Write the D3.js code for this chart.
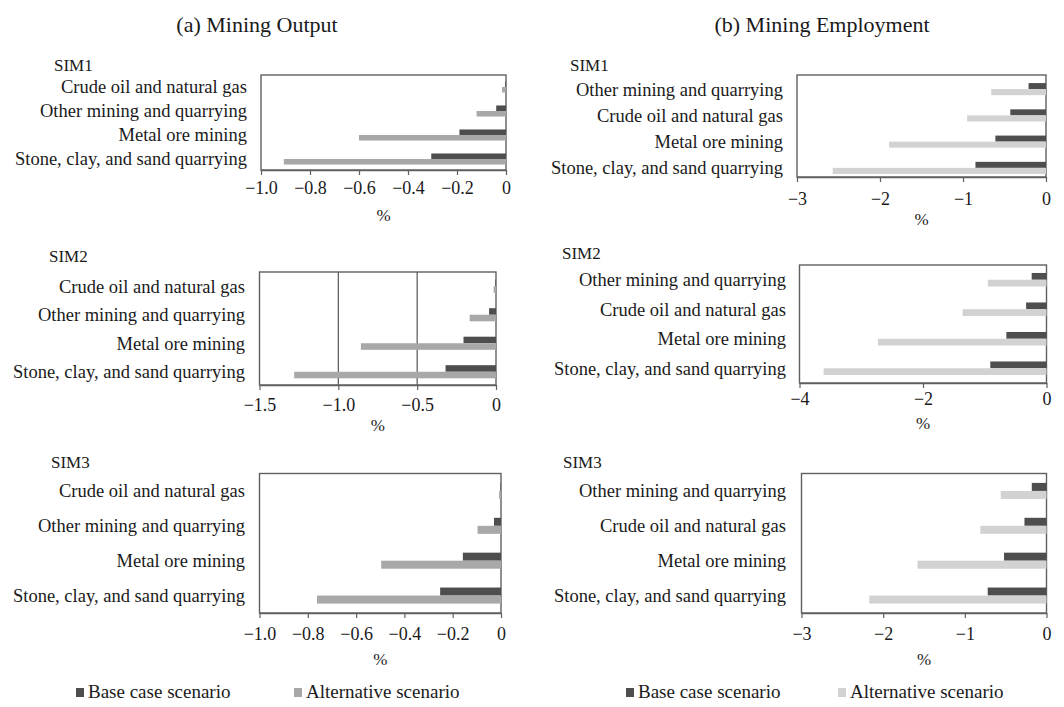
<!DOCTYPE html>
<html>
<head>
<meta charset="utf-8">
<script src="https://cdn.jsdelivr.net/npm/d3@7/dist/d3.min.js"></script>
<style>
  html, body { margin: 0; padding: 0; background: #fff; }
  svg { display: block; }
  text { font-family: "Liberation Serif", "Times New Roman", serif; fill: #1a1a1a; }
</style>
</head>
<body>
<svg id="chart" width="1064" height="707"></svg>
<script>
// ---------------- DATA ----------------
const outputCategories = ["Crude oil and natural gas", "Other mining and quarrying", "Metal ore mining", "Stone, clay, and sand quarrying"];
const employmentCategories = ["Other mining and quarrying", "Crude oil and natural gas", "Metal ore mining", "Stone, clay, and sand quarrying"];

const outputSIM1Base = [-0.003, -0.04, -0.19, -0.305];
const outputSIM1Alt  = [-0.016, -0.12, -0.60, -0.907];
const outputSIM2Base = [-0.004, -0.044, -0.206, -0.32];
const outputSIM2Alt  = [-0.015, -0.167, -0.857, -1.28];
const outputSIM3Base = [-0.002, -0.029, -0.158, -0.252];
const outputSIM3Alt  = [-0.008, -0.097, -0.496, -0.762];

const employSIM1Base = [-0.21, -0.43, -0.61, -0.85];
const employSIM1Alt  = [-0.66, -0.95, -1.89, -2.57];
const employSIM2Base = [-0.24, -0.33, -0.65, -0.91];
const employSIM2Alt  = [-0.95, -1.36, -2.73, -3.61];
const employSIM3Base = [-0.18, -0.27, -0.52, -0.72];
const employSIM3Alt  = [-0.56, -0.81, -1.58, -2.17];

const outputTicks1 = [-1.0, -0.8, -0.6, -0.4, -0.2, 0];
const outputTicks2 = [-1.5, -1.0, -0.5, 0];
const outputTicks3 = [-1.0, -0.8, -0.6, -0.4, -0.2, 0];
const employTicks1 = [-3, -2, -1, 0];
const employTicks2 = [-4, -2, 0];
const employTicks3 = [-3, -2, -1, 0];

const panelTitles = ["(a) Mining Output", "(b) Mining Employment"];
const simLabels = ["SIM1", "SIM2", "SIM3"];
const seriesNames = ["Base case scenario", "Alternative scenario"];
const axisTitle = "%";

// ---------------- STYLE / LAYOUT ----------------
const colBase = "#4e4e4e";
const colAltA = "#a8a8a8";
const colAltB = "#d2d2d2";
const frameCol = "#606060";

const panels = [
  { cats: outputCategories, base: outputSIM1Base, alt: outputSIM1Alt, ticks: outputTicks1, dec: 1, domain: [-1.0, 0],
    x0: 261, x1: 506, y0: 75, y1: 170, by0: 75, by1: 171, lblX: 247, sim: simLabels[0], simX: 54, simY: 71, pad: 6.5, pctY: 221, altCol: colAltA, grid: [] },
  { cats: employmentCategories, base: employSIM1Base, alt: employSIM1Alt, ticks: employTicks1, dec: 0, domain: [-3, 0],
    x0: 797, x1: 1046, y0: 75, y1: 177, by0: 76, by1: 181, lblX: 783, sim: simLabels[0], simX: 570, simY: 71, pad: 10, pctY: 225, altCol: colAltB, grid: [] },
  { cats: outputCategories, base: outputSIM2Base, alt: outputSIM2Alt, ticks: outputTicks2, dec: 1, domain: [-1.5, 0],
    x0: 259.5, x1: 496, y0: 272, y1: 385, by0: 272, by1: 386, lblX: 245, sim: simLabels[1], simX: 49, simY: 262, pad: 8.5, pctY: 431, altCol: colAltA, grid: [-1.0, -0.5] },
  { cats: employmentCategories, base: employSIM2Base, alt: employSIM2Alt, ticks: employTicks2, dec: 0, domain: [-4, 0],
    x0: 799.5, x1: 1046.5, y0: 265, y1: 383, by0: 265, by1: 383, lblX: 786, sim: simLabels[1], simX: 562, simY: 259, pad: 4, pctY: 429, altCol: colAltB, grid: [] },
  { cats: outputCategories, base: outputSIM3Base, alt: outputSIM3Alt, ticks: outputTicks3, dec: 1, domain: [-1.0, 0],
    x0: 259.5, x1: 501, y0: 473.5, y1: 613, by0: 473.5, by1: 613, lblX: 245, sim: simLabels[2], simX: 51, simY: 467.5, pad: 9, pctY: 665, altCol: colAltA, grid: [] },
  { cats: employmentCategories, base: employSIM3Base, alt: employSIM3Alt, ticks: employTicks3, dec: 0, domain: [-3, 0],
    x0: 801.5, x1: 1046.5, y0: 473.5, y1: 613, by0: 473.5, by1: 613, lblX: 786, sim: simLabels[2], simX: 563, simY: 467.5, pad: 9, pctY: 665, altCol: colAltB, grid: [] }
];

const svg = d3.select("#chart");

// Titles
svg.append("text").attr("x", 257).attr("y", 32).attr("text-anchor", "middle")
  .style("font-size", "22px").text(panelTitles[0]);
svg.append("text").attr("x", 822).attr("y", 32).attr("text-anchor", "middle")
  .style("font-size", "22px").text(panelTitles[1]);

function fmt(dec) {
  return v => {
    if (v === 0) return "0";
    const s = Math.abs(v).toFixed(dec);
    return (v < 0 ? "\u2212" : "") + s;
  };
}

panels.forEach(p => {
  const g = svg.append("g");
  const x = d3.scaleLinear().domain(p.domain).range([p.x0, p.x1]);
  const y = d3.scaleBand().domain(p.cats).range([p.by0, p.by1]).paddingInner(0.54).paddingOuter(0.27);
  const bh = y.bandwidth() / 2;

  // SIM label
  g.append("text").attr("x", p.simX).attr("y", p.simY).style("font-size", "17px").text(p.sim);

  // frame
  g.append("rect").attr("x", p.x0).attr("y", p.y0).attr("width", p.x1 - p.x0).attr("height", p.y1 - p.y0)
    .attr("fill", "none").attr("stroke", frameCol).attr("stroke-width", 1.4);

  // grid lines
  g.selectAll("line.grid").data(p.grid).join("line").attr("class", "grid")
    .attr("x1", d => x(d)).attr("x2", d => x(d)).attr("y1", p.y0).attr("y2", p.y1)
    .attr("stroke", "#555").attr("stroke-width", 1.2);

  // bars
  g.selectAll("rect.base").data(p.cats).join("rect").attr("class", "base")
    .attr("x", (d, i) => x(p.base[i])).attr("width", (d, i) => x(0) - x(p.base[i]))
    .attr("y", d => y(d)).attr("height", bh).attr("fill", colBase);
  g.selectAll("rect.alt").data(p.cats).join("rect").attr("class", "alt")
    .attr("x", (d, i) => x(p.alt[i])).attr("width", (d, i) => x(0) - x(p.alt[i]))
    .attr("y", d => y(d) + bh).attr("height", bh).attr("fill", p.altCol);

  // category labels
  g.selectAll("text.cat").data(p.cats).join("text").attr("class", "cat")
    .attr("x", p.lblX).attr("y", d => y(d) + y.bandwidth() / 2).attr("dy", "0.35em")
    .attr("text-anchor", "end").style("font-size", "18.5px").text(d => d);

  // x axis
  const ax = d3.axisBottom(x).tickValues(p.ticks).tickFormat(fmt(p.dec)).tickSize(5).tickPadding(p.pad).tickSizeOuter(0);
  const axg = g.append("g").attr("transform", `translate(0,${p.y1})`).call(ax);
  axg.select(".domain").attr("stroke", frameCol).attr("stroke-width", 1.4);
  axg.selectAll(".tick line").attr("stroke", frameCol).attr("stroke-width", 1.2);
  axg.selectAll(".tick text").style("font-size", "18px").style("font-family", "Liberation Serif, serif").attr("fill", "#1a1a1a");

  // % title
  g.append("text").attr("x", (p.x0 + p.x1) / 2).attr("y", p.pctY).attr("text-anchor", "middle")
    .style("font-size", "17px").text(axisTitle);
});

// Legends
const legends = [
  { x: 76, col: colBase, name: seriesNames[0] },
  { x: 294, col: colAltA, name: seriesNames[1] },
  { x: 626, col: colBase, name: seriesNames[0] },
  { x: 838, col: colAltB, name: seriesNames[1] }
];
const lg = svg.append("g");
lg.selectAll("rect").data(legends).join("rect")
  .attr("x", d => d.x).attr("y", 688).attr("width", 8).attr("height", 9).attr("fill", d => d.col);
lg.selectAll("text").data(legends).join("text")
  .attr("x", d => d.x + 12).attr("y", 698).style("font-size", "19px").text(d => d.name);
</script>
</body>
</html>
